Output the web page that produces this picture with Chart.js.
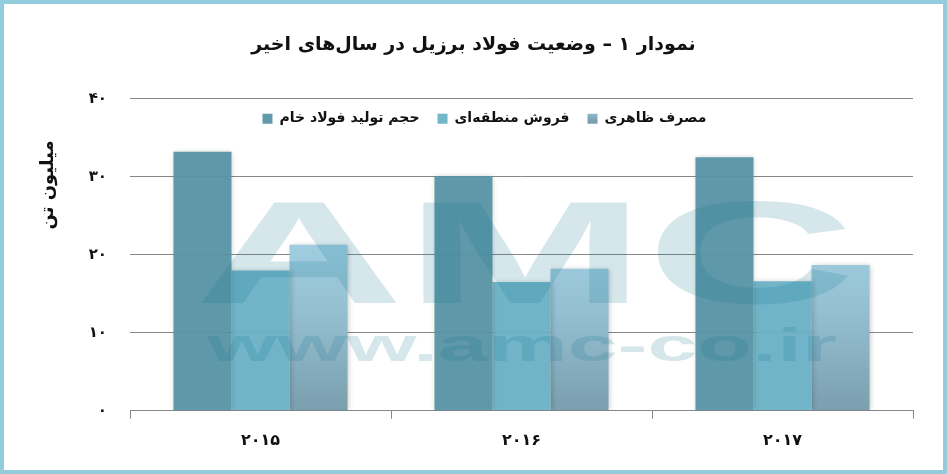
<!DOCTYPE html>
<html>
<head>
<meta charset="utf-8">
<script src="https://cdn.jsdelivr.net/npm/chart.js@4.4.1/dist/chart.umd.min.js"></script>
<style>
  html, body { margin: 0; padding: 0; background: #fff; }
  #wrap { width: 947px; height: 474px; box-sizing: border-box; border: 4px solid #93cddd; }
  canvas { display: block; }
</style>
</head>
<body>
<div id="wrap"><canvas id="steelChart" width="939" height="466"></canvas></div>
<script>
// values (million tonnes)
const years = ['۲۰۱۵', '۲۰۱۶', '۲۰۱۷'];
const crudeSteel = [33.2, 30.1, 32.5];
const regionalSales = [18.0, 16.5, 16.6];
const apparentUse = [21.3, 18.2, 18.7];
const seriesNames = ['حجم تولید فولاد خام', 'فروش منطقه\u200cای', 'مصرف ظاهری'];
const yTickLabels = { 0: '۰', 10: '۱۰', 20: '۲۰', 30: '۳۰', 40: '۴۰' };

const faFont = '"DejaVu Sans", "Noto Sans", sans-serif';

function apparentFill(context) {
  const chart = context.chart;
  const area = chart.chartArea;
  if (!area) return '#8fb9ca';
  const g = chart.ctx.createLinearGradient(0, chart.scales.y.getPixelForValue(21), 0, area.bottom);
  g.addColorStop(0, '#9ecddf');
  g.addColorStop(0.4, '#94bfd1');
  g.addColorStop(1, '#7a9fae');
  return g;
}

// legend sits inside the plot, just under the 40 line
const legendInside = {
  id: 'legendInside',
  beforeInit(chart) {
    const lg = chart.legend;
    const fit = lg.fit;
    lg.fit = function () {
      fit.call(this);
      this._realHeight = this.height;
      this.height = 0;
    };
  },
  afterLayout(chart) {
    const lg = chart.legend, a = chart.chartArea;
    const h = lg._realHeight || 0;
    lg.height = h;
    lg.top = a.top - 5;
    lg.bottom = lg.top + h;
    lg.left = a.left - 37;
    lg.right = a.right - 37;
  }
};

// soft shadow on bars, y axis title and watermark
const extras = {
  id: 'extras',
  beforeDatasetsDraw(chart) {
    const ctx = chart.ctx;
    ctx.save();
    ctx.shadowColor = 'rgba(0,0,0,0.22)';
    ctx.shadowBlur = 5;
    ctx.shadowOffsetX = 1;
  },
  afterDatasetsDraw(chart) {
    const ctx = chart.ctx;
    ctx.restore();
    ctx.save();
    ctx.fillStyle = 'rgba(14,111,140,0.17)';
    ctx.textAlign = 'center';
    ctx.textBaseline = 'alphabetic';
    ctx.font = 'bold 146px "Liberation Sans", Arial, sans-serif';
    ctx.translate(521, 299);
    ctx.scale(1.99, 1);
    ctx.fillText('AMC', 0, 0);
    ctx.restore();
    ctx.save();
    ctx.fillStyle = 'rgba(14,111,140,0.17)';
    ctx.textAlign = 'center';
    ctx.font = 'bold 46px "Liberation Sans", Arial, sans-serif';
    ctx.translate(518, 344);
    ctx.scale(1.95, 1);
    ctx.fillText('www.amc-co.ir', 0, 0);
    ctx.restore();
  },
  afterDraw(chart) {
    const ctx = chart.ctx;
    ctx.save();
    ctx.translate(44, 181);
    ctx.rotate(-Math.PI / 2);
    ctx.textAlign = 'center';
    ctx.textBaseline = 'middle';
    ctx.fillStyle = '#111';
    ctx.font = 'bold 18px ' + faFont;
    ctx.fillText('میلیون تن', 0, 0);
    ctx.restore();
  }
};

new Chart(document.getElementById('steelChart'), {
  type: 'bar',
  data: {
    labels: years,
    datasets: [
      { label: seriesNames[0], data: crudeSteel, backgroundColor: 'rgba(88,149,165,0.95)' },
      { label: seriesNames[1], data: regionalSales, backgroundColor: 'rgba(108,178,198,0.95)' },
      { label: seriesNames[2], data: apparentUse, backgroundColor: apparentFill }
    ]
  },
  options: {
    responsive: false,
    animation: false,
    layout: { padding: { left: 30, right: 30, bottom: 8, top: 0 } },
    datasets: { bar: { categoryPercentage: 0.667, barPercentage: 1, borderWidth: 0 } },
    plugins: {
      title: {
        display: true,
        text: 'نمودار ۱ – وضعیت فولاد برزیل در سال\u200cهای اخیر',
        color: '#111',
        font: { family: faFont, size: 19, weight: 'bold' },
        padding: { top: 30, bottom: 42 }
      },
      legend: {
        position: 'top',
        labels: {
          color: '#111',
          font: { family: faFont, size: 14, weight: 'bold' },
          boxWidth: 10,
          boxHeight: 10,
          padding: 18,
          generateLabels(chart) {
            const items = Chart.defaults.plugins.legend.labels.generateLabels(chart);
            const area = chart.chartArea;
            if (area && items[2]) {
              const g = chart.ctx.createLinearGradient(0, area.top + 10, 0, area.top + 22);
              g.addColorStop(0, '#9ecddf');
              g.addColorStop(1, '#7a9fae');
              items[2].fillStyle = g;
            }
            return items;
          }
        }
      },
      tooltip: { enabled: false }
    },
    scales: {
      x: {
        grid: { display: true, drawOnChartArea: false, offset: true, tickLength: 8, color: '#888' },
        border: { display: true, color: '#888' },
        ticks: { color: '#111', padding: 12, font: { family: faFont, size: 16, weight: 'bold' } }
      },
      y: {
        min: 0,
        max: 40,
        afterFit(scale) { scale.width = 96; },
        grid: { color: '#878787', drawTicks: false },
        border: { display: false },
        ticks: {
          stepSize: 10,
          padding: 23,
          color: '#111',
          font: { family: faFont, size: 15, weight: 'bold' },
          callback: v => yTickLabels[v]
        }
      }
    }
  },
  plugins: [legendInside, extras]
});
</script>
</body>
</html>
